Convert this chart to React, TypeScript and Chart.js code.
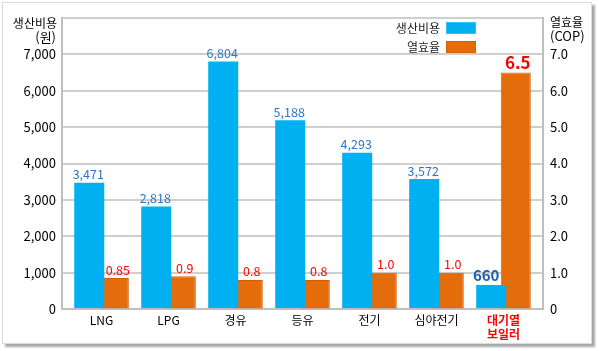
import React, { useEffect, useRef } from 'react';
import { Chart, registerables } from 'chart.js';

Chart.register(...registerables);

const categories: (string | string[])[] = ['LNG', 'LPG', '경유', '등유', '전기', '심야전기', ['대기열', '보일러']];
const costValues = [3471, 2818, 6804, 5188, 4293, 3572, 660];
const copValues = [0.85, 0.9, 0.8, 0.8, 1.0, 1.0, 6.5];
const costLabels = ['3,471', '2,818', '6,804', '5,188', '4,293', '3,572', '660'];
const copLabels = ['0.85', '0.9', '0.8', '0.8', '1.0', '1.0', '6.5'];
const costTickLabels = ['0', '1,000', '2,000', '3,000', '4,000', '5,000', '6,000', '7,000'];
const copTickLabels = ['0', '1.0', '2.0', '3.0', '4.0', '5.0', '6.0', '7.0'];
const seriesNames = ['생산비용', '열효율'];
const leftTitle = ['생산비용', '(원)'];
const rightTitle = ['열효율', '(COP)'];

const FONT = "'Noto Sans CJK KR', 'Noto Sans', sans-serif";
const BLUE = '#00b0f0';
const ORANGE = '#e46c0a';

const overlayPlugin = {
  id: 'overlay',
  afterDatasetsDraw(chart: any) {
    const ctx = chart.ctx;
    ctx.save();
    // data labels
    const m0 = chart.getDatasetMeta(0);
    m0.data.forEach((el: any, i: number) => {
      const last = i === costValues.length - 1;
      ctx.font = (last ? 'bold 15px ' : '12.5px ') + FONT;
      ctx.fillStyle = last ? '#1f5fae' : '#2e75c6';
      ctx.textAlign = 'center';
      ctx.textBaseline = 'bottom';
      ctx.fillText(costLabels[i], el.x + (last ? -5 : -1), el.y - 2);
    });
    const m1 = chart.getDatasetMeta(1);
    m1.data.forEach((el: any, i: number) => {
      const last = i === copValues.length - 1;
      ctx.font = (last ? 'bold 17px ' : '12.5px ') + FONT;
      ctx.fillStyle = '#ff0000';
      ctx.textAlign = 'center';
      ctx.textBaseline = 'bottom';
      ctx.fillText(copLabels[i], el.x + (last ? 2 : 4), el.y - 2);
    });
    // axis titles
    const area = chart.chartArea;
    ctx.fillStyle = '#000';
    ctx.textBaseline = 'middle';
    ctx.textAlign = 'right';
    ctx.font = '12px ' + FONT;
    ctx.fillText(leftTitle[0], area.left - 5, 23);
    ctx.font = '13px ' + FONT;
    ctx.fillText(leftTitle[1], area.left - 6, 37);
    ctx.textAlign = 'left';
    ctx.font = '12px ' + FONT;
    ctx.fillText(rightTitle[0], area.right + 7, 22);
    ctx.font = '13px ' + FONT;
    ctx.fillText(rightTitle[1], area.right + 7, 36);
    // legend
    const colors = [BLUE, ORANGE];
    const borders = ['#33c0f3', '#d0600a'];
    ctx.font = '12px ' + FONT;
    seriesNames.forEach((n, i) => {
      const cy = 28 + i * 19;
      ctx.textAlign = 'right';
      ctx.fillStyle = '#222';
      ctx.fillText(n, 440, cy);
      ctx.fillStyle = colors[i];
      ctx.fillRect(446, cy - 6, 30, 12);
      ctx.strokeStyle = borders[i];
      ctx.lineWidth = 1;
      ctx.strokeRect(446.5, cy - 5.5, 29, 11);
    });
    ctx.restore();
  },
};

export default function App() {
  const ref = useRef<HTMLCanvasElement>(null);
  useEffect(() => {
    if (!ref.current) return;
    const chart = new Chart(ref.current, {
      type: 'bar',
      data: {
        datasets: [
          {
            label: seriesNames[0],
            data: costValues.map((v, i) => ({ x: i, y: v })),
            backgroundColor: BLUE,
            borderWidth: 0,
            yAxisID: 'y',
            categoryPercentage: 0.733,
            barPercentage: 1.224,
          } as any,
          {
            label: seriesNames[1],
            data: copValues.map((v, i) => ({ x: i, y: v })),
            backgroundColor: ORANGE,
            borderColor: '#d2600a',
            borderWidth: 1,
            yAxisID: 'y1',
            categoryPercentage: 0.733,
            barPercentage: 1.224,
          } as any,
        ],
      },
      options: {
        responsive: false,
        animation: false,
        devicePixelRatio: 1,
        layout: { padding: { top: 18, left: 0, right: 0, bottom: 0 } },
        plugins: { legend: { display: false }, tooltip: { enabled: false } },
        scales: {
          x: {
            type: 'linear',
            offset: false,
            min: -0.59,
            max: 6.59,
            grid: { display: false, offset: false, drawTicks: false },
            border: { display: true, color: '#bfbfbf', width: 2 },
            afterFit: (s: any) => {
              s.height = 42;
              s.paddingLeft = 0;
              s.paddingRight = 0;
            },
            ticks: {
              stepSize: 1,
              includeBounds: false,
              autoSkip: false,
              maxRotation: 0,
              padding: 5,
              font: (c: any) => ({
                family: FONT,
                size: 12,
                weight: c.tick && c.tick.value === 6 ? 'bold' : 'normal',
                lineHeight: 1.12,
              }),
              color: (c: any) => (c.tick && c.tick.value === 6 ? '#ff0000' : '#000'),
              callback: (v: any) => {
                const i = Math.round(Number(v));
                return categories[i] ?? '';
              },
            },
          } as any,
          y: {
            position: 'left',
            min: 0,
            max: 8000,
            grid: { color: '#cfcfcf', lineWidth: 2, drawTicks: false },
            border: { display: true, color: '#bfbfbf', width: 2 },
            afterFit: (s: any) => {
              s.width = 62;
              s.paddingTop = 0;
              s.paddingBottom = 0;
            },
            ticks: {
              stepSize: 500,
              padding: 6,
              color: '#000',
              font: { family: FONT, size: 13 },
              callback: (v: any) => {
                const n = Number(v);
                if (n % 1000 !== 0) return '';
                return costTickLabels[n / 1000] ?? '';
              },
            },
          } as any,
          y1: {
            position: 'right',
            min: 0,
            max: 8,
            grid: { drawOnChartArea: false, drawTicks: false },
            border: { display: true, color: '#bfbfbf', width: 2 },
            afterFit: (s: any) => {
              s.width = 56;
              s.paddingTop = 0;
              s.paddingBottom = 0;
            },
            ticks: {
              stepSize: 0.5,
              padding: 7,
              color: '#000',
              font: { family: FONT, size: 13 },
              callback: (v: any) => {
                const n = Number(v);
                if (Math.abs(n - Math.round(n)) > 1e-6) return '';
                return copTickLabels[Math.round(n)] ?? '';
              },
            },
          } as any,
        },
      },
      plugins: [overlayPlugin],
    });
    return () => chart.destroy();
  }, []);

  return (
    <div style={{ position: 'fixed', left: 0, top: 0, width: 599, height: 351, background: '#fff' }}>
      <div
        style={{
          position: 'absolute',
          left: 2,
          top: 2,
          width: 590,
          height: 342,
          boxSizing: 'border-box',
          border: '1px solid #dcdcdc',
          boxShadow: '3px 3px 2px rgba(0,0,0,0.35)',
          background: '#fff',
        }}
      />
      <canvas ref={ref} width={599} height={351} style={{ position: 'absolute', left: 0, top: 0 }} />
    </div>
  );
}
